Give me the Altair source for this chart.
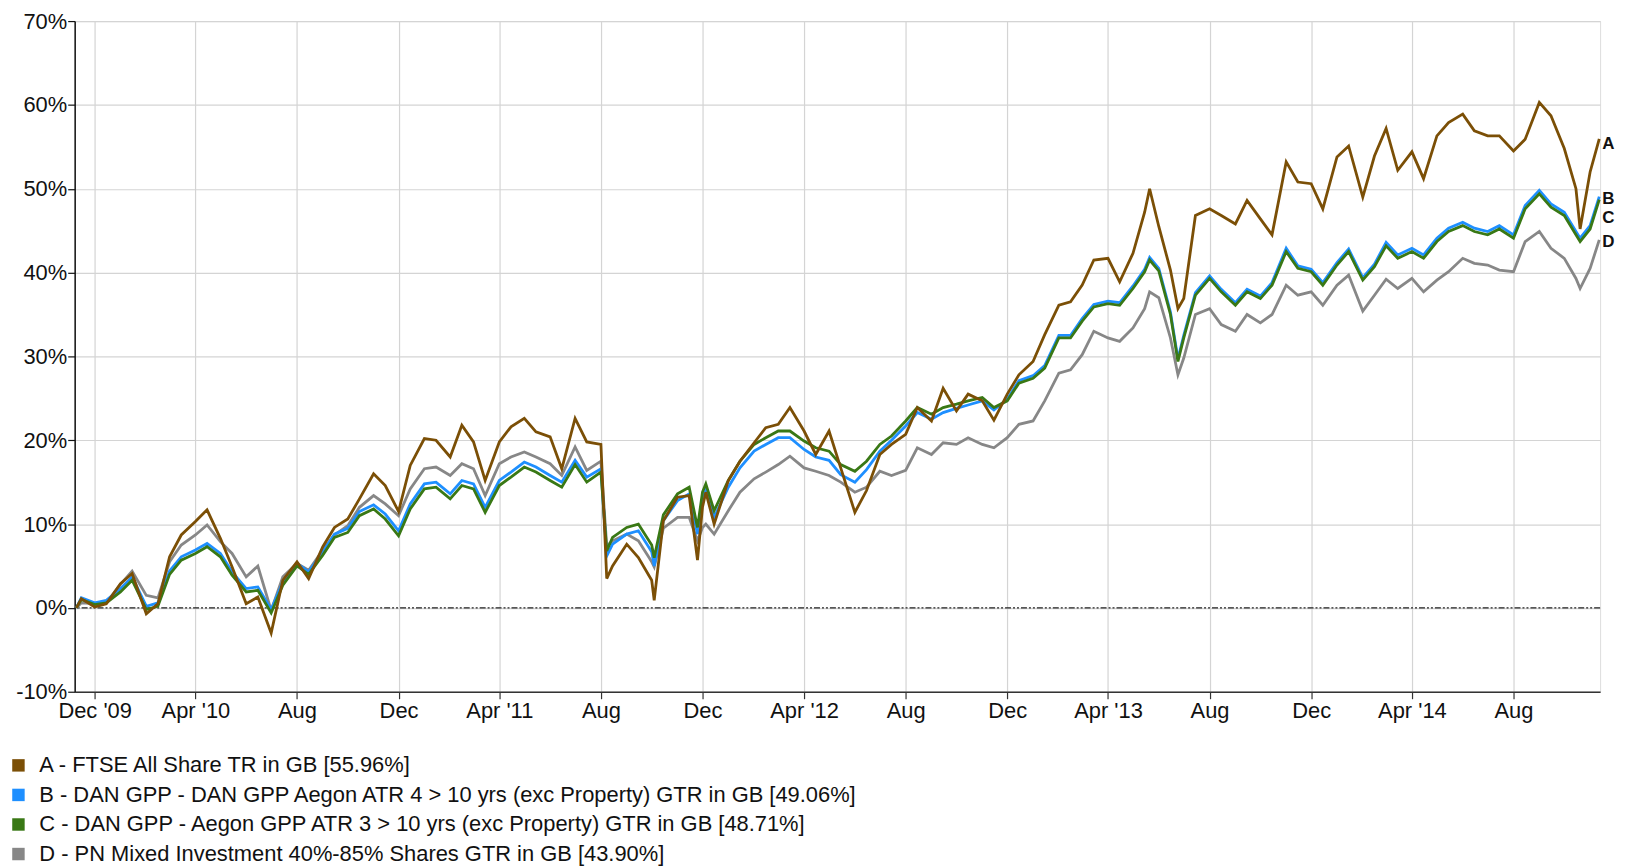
import altair as alt
import pandas as pd

dates = [
    "2009-11-09", "2009-11-15", "2009-12-01", "2009-12-15",
    "2010-01-01", "2010-01-15", "2010-02-01", "2010-02-15", "2010-03-01", "2010-03-15",
    "2010-04-01", "2010-04-15", "2010-05-01", "2010-05-15", "2010-06-01", "2010-06-15",
    "2010-07-01", "2010-07-15", "2010-08-01", "2010-08-15", "2010-09-01", "2010-09-15",
    "2010-10-01", "2010-10-15", "2010-11-01", "2010-11-15", "2010-12-01", "2010-12-15",
    "2011-01-01", "2011-01-15", "2011-02-01", "2011-02-15", "2011-03-01", "2011-03-15",
    "2011-04-01", "2011-04-15", "2011-05-01", "2011-05-15", "2011-06-01", "2011-06-15",
    "2011-07-01", "2011-07-15", "2011-08-01", "2011-08-08", "2011-08-15", "2011-09-01",
    "2011-09-15", "2011-10-01", "2011-10-04", "2011-10-15", "2011-11-01", "2011-11-15",
    "2011-11-25", "2011-12-01", "2011-12-05", "2011-12-15",
    "2012-01-01", "2012-01-15", "2012-02-01", "2012-02-15", "2012-03-01", "2012-03-15",
    "2012-04-01", "2012-04-15", "2012-05-01", "2012-05-15", "2012-06-01", "2012-06-15",
    "2012-07-01", "2012-07-15", "2012-08-01", "2012-08-15", "2012-09-01", "2012-09-15",
    "2012-10-01", "2012-10-15", "2012-11-01", "2012-11-15", "2012-12-01", "2012-12-15",
    "2013-01-01", "2013-01-15", "2013-02-01", "2013-02-15", "2013-03-01", "2013-03-15",
    "2013-04-01", "2013-04-15", "2013-05-01", "2013-05-15", "2013-05-21", "2013-06-01",
    "2013-06-15", "2013-06-24", "2013-07-01", "2013-07-15", "2013-08-01", "2013-08-15",
    "2013-09-01", "2013-09-15", "2013-10-01", "2013-10-15", "2013-11-01", "2013-11-15",
    "2013-12-01", "2013-12-15",
    "2014-01-01", "2014-01-15", "2014-02-01", "2014-02-15", "2014-03-01", "2014-03-15",
    "2014-04-01", "2014-04-15", "2014-05-01", "2014-05-15", "2014-06-01", "2014-06-15",
    "2014-07-01", "2014-07-15", "2014-08-01", "2014-08-15", "2014-09-01", "2014-09-15",
    "2014-10-01", "2014-10-15", "2014-10-20", "2014-11-01", "2014-11-12",
]

a_vals = [
    0.0, 1.1, 0.1, 0.5,
    2.9, 4.1, -0.7, 0.5, 6.1, 8.7, 10.3, 11.7, 8.3, 4.9, 0.5, 1.3, -3.0, 3.3, 5.5, 3.5, 7.3, 9.6, 10.6, 13.0, 16.0, 14.6, 11.5, 17.0,
    20.2, 20.0, 18.0, 21.8, 19.8, 15.2, 19.8, 21.6, 22.6, 21.0, 20.4, 16.6, 22.6, 19.8, 19.5, 3.5, 5.0, 7.6, 6.0, 3.3, 0.9, 10.4, 13.2, 13.4, 5.7, 12.0, 13.8, 10.0,
    15.2, 17.5, 19.7, 21.5, 21.9, 23.9, 21.1, 18.3, 21.1, 16.7, 11.4, 14.0, 18.3, 19.5, 20.7, 23.9, 22.3, 26.2, 23.5, 25.5, 24.7, 22.4, 25.5, 27.8,
    29.4, 32.6, 36.1, 36.5, 38.5, 41.5, 41.7, 38.9, 42.3, 47.2, 50.0, 45.5, 40.3, 35.7, 36.9, 46.8, 47.6, 46.8, 45.8, 48.6, 46.4, 44.5, 53.2, 50.8, 50.6, 47.6,
    53.8, 55.1, 49.0, 53.9, 57.2, 52.2, 54.4, 51.2, 56.3, 57.9, 58.9, 56.9, 56.3, 56.3, 54.5, 55.9, 60.3, 58.7, 54.8, 50.0, 45.2, 52.0, 55.96,
]

b_vals = [
    0.0, 1.2, 0.6, 0.9,
    2.3, 3.7, 0.2, 0.6, 4.4, 6.1, 6.9, 7.7, 6.5, 4.3, 2.3, 2.5, -0.2, 3.1, 5.3, 4.3, 6.7, 8.8, 9.5, 11.5, 12.3, 11.2, 9.2, 12.4,
    14.8, 15.0, 13.6, 15.2, 14.8, 12.0, 15.2, 16.2, 17.4, 16.8, 15.8, 15.0, 17.6, 15.6, 16.6, 6.2, 7.6, 8.8, 9.2, 6.7, 5.0, 10.4, 12.8, 13.6, 8.8, 13.0, 14.0, 10.8,
    14.4, 16.7, 18.7, 19.5, 20.3, 20.3, 18.9, 18.0, 17.6, 15.9, 15.0, 16.5, 18.7, 20.0, 21.7, 23.3, 22.5, 23.3, 23.8, 24.2, 24.7, 23.6, 24.9, 27.1,
    27.7, 28.9, 32.5, 32.5, 34.5, 36.2, 36.6, 36.4, 38.4, 40.4, 41.8, 40.5, 35.3, 29.7, 32.5, 37.6, 39.6, 38.0, 36.4, 38.0, 37.2, 38.8, 42.9, 40.8, 40.4, 38.8,
    41.2, 42.8, 39.4, 41.0, 43.6, 42.1, 42.9, 42.1, 44.1, 45.3, 46.0, 45.3, 44.9, 45.6, 44.5, 48.0, 49.8, 48.2, 47.2, 44.9, 44.1, 45.6, 49.06,
]

c_vals = [
    0.0, 1.0, 0.4, 0.6,
    1.9, 3.3, -0.2, 0.2, 4.0, 5.7, 6.5, 7.3, 6.1, 3.9, 1.9, 2.1, -0.6, 2.7, 5.0, 4.0, 6.3, 8.4, 9.0, 11.0, 11.8, 10.6, 8.6, 11.8,
    14.2, 14.4, 13.0, 14.6, 14.2, 11.4, 14.6, 15.6, 16.8, 16.2, 15.2, 14.4, 17.1, 15.0, 16.2, 6.8, 8.4, 9.6, 10.0, 7.5, 6.0, 11.1, 13.6, 14.4, 9.6, 13.8, 14.8, 11.6,
    15.2, 17.5, 19.5, 20.3, 21.1, 21.1, 19.9, 19.1, 18.7, 17.1, 16.3, 17.5, 19.5, 20.5, 22.3, 23.9, 23.1, 23.9, 24.3, 24.7, 25.1, 23.9, 24.7, 26.8,
    27.4, 28.6, 32.2, 32.2, 34.2, 35.9, 36.3, 36.1, 38.1, 40.1, 41.5, 40.2, 35.0, 29.4, 32.2, 37.3, 39.3, 37.7, 36.1, 37.7, 36.9, 38.5, 42.5, 40.5, 40.1, 38.5,
    40.9, 42.5, 39.1, 40.7, 43.2, 41.7, 42.5, 41.7, 43.7, 44.9, 45.6, 44.9, 44.5, 45.2, 44.1, 47.6, 49.4, 47.8, 46.8, 44.5, 43.7, 45.2, 48.71,
]

d_vals = [
    0.0, 0.6, 0.5, 0.6,
    2.8, 4.4, 1.5, 1.2, 5.5, 7.5, 8.7, 9.9, 7.9, 6.5, 3.7, 5.0, -0.3, 3.7, 5.3, 4.5, 6.9, 8.7, 9.8, 12.0, 13.4, 12.4, 11.0, 14.2,
    16.6, 16.8, 15.8, 17.2, 16.6, 13.4, 17.2, 18.0, 18.6, 18.0, 17.2, 15.8, 19.2, 16.4, 17.5, 7.4, 8.0, 8.8, 8.0, 5.5, 4.9, 9.5, 10.8, 10.8, 8.0, 9.6, 10.0, 8.8,
    11.6, 13.8, 15.4, 16.2, 17.1, 18.1, 16.7, 16.3, 15.8, 15.0, 13.8, 14.4, 16.3, 15.8, 16.4, 19.1, 18.3, 19.7, 19.5, 20.3, 19.5, 19.1, 20.3, 21.9,
    22.3, 24.7, 28.0, 28.4, 30.2, 33.0, 32.2, 31.8, 33.4, 35.7, 37.7, 37.0, 32.2, 27.8, 29.8, 35.0, 35.7, 33.8, 33.0, 35.0, 34.0, 35.0, 38.5, 37.3, 37.7, 36.1,
    38.5, 39.7, 35.4, 37.3, 39.2, 38.1, 39.3, 37.7, 39.1, 40.1, 41.7, 41.1, 40.9, 40.3, 40.1, 43.7, 44.9, 42.9, 41.7, 39.3, 38.1, 40.5, 43.90,
]

letters = ["A", "B", "C", "D"]
names = [
    "A - FTSE All Share TR in GB [55.96%]",
    "B - DAN GPP - DAN GPP Aegon ATR 4 > 10 yrs (exc Property) GTR in GB [49.06%]",
    "C - DAN GPP -  Aegon GPP ATR 3 > 10 yrs (exc Property) GTR in GB [48.71%]",
    "D - PN Mixed Investment 40%-85% Shares GTR in GB [43.90%]",
]
colors = ["#7b4f06", "#1e8fff", "#397815", "#878787"]
y_ticks = [-10, 0, 10, 20, 30, 40, 50, 60, 70]
x_tick_months = [(2009, 12)] + [(y, m) for y in range(2010, 2015) for m in (4, 8, 12)][:-1]

series_vals = [a_vals, b_vals, c_vals, d_vals]
rows = []
for letter, name, vals in zip(letters, names, series_vals):
    for d, v in zip(dates, vals):
        rows.append({"date": d, "series": name, "letter": letter, "value": v})
df = pd.DataFrame(rows)
last_df = df[df["date"] == dates[-1]].reset_index(drop=True)

FONT = "Liberation Sans"
FS = 22

x_scale = alt.Scale(
    type="utc",
    domain=[alt.DateTime(year=2009, month=11, date=7, utc=True),
            alt.DateTime(year=2014, month=11, date=13, utc=True)],
)
y_scale = alt.Scale(domain=[-10, 70], nice=False, zero=False)

x_axis = alt.Axis(
    values=[alt.DateTime(year=y, month=m, date=1, utc=True) for y, m in x_tick_months],
    labelExpr="(utcmonth(datum.value) == 3 || utcyear(datum.value) == 2009) ? utcFormat(datum.value, \"%b '%y\") : utcFormat(datum.value, '%b')",
    title=None, grid=True, gridColor="#d4d4d4", gridWidth=1.2,
    domainColor="#333333", domainWidth=1.5, tickColor="#333333", tickSize=7, tickWidth=1.2,
    labelFont=FONT, labelFontSize=FS, labelColor="#111111", labelPadding=2,
    labelFlush=False, labelOverlap=False,
)
y_axis = alt.Axis(
    values=y_ticks, labelExpr="datum.value + '%'", title=None,
    grid=True, gridColor="#d4d4d4", gridWidth=1.2,
    domainColor="#111111", domainWidth=1.5, tickColor="#111111", tickSize=7, tickWidth=1.2,
    labelFont=FONT, labelFontSize=FS, labelColor="#111111", labelPadding=1,
    labelFlush=False, labelOverlap=False,
)

color = alt.Color(
    "series:N",
    scale=alt.Scale(domain=names, range=colors),
    legend=alt.Legend(
        orient="none", legendX=-67.5, legendY=737, direction="vertical", title=None,
        symbolType="square", symbolSize=36, symbolStrokeWidth=6.5,
        labelFont=FONT, labelFontSize=FS, labelColor="#111111", labelLimit=1500,
        labelOffset=10, rowPadding=-2.3, padding=0,
    ),
)

zero = alt.Chart(pd.DataFrame({"v": [0]})).mark_rule(
    color="#222222", strokeWidth=1.2, strokeDash=[6, 2, 2, 2, 2, 2]
).encode(y=alt.Y("v:Q", scale=y_scale, axis=y_axis))

layers = [zero]
for idx in [3, 1, 2, 0]:
    layers.append(
        alt.Chart(df).transform_filter(alt.datum.letter == letters[idx]).mark_line(
            strokeWidth=2.8, interpolate="linear"
        ).encode(
            x=alt.X("date:T", scale=x_scale, axis=x_axis),
            y=alt.Y("value:Q", scale=y_scale, axis=y_axis),
            color=color,
        )
    )

label_dy = {"A": 5, "B": 2, "C": 19, "D": 2}
for letter in letters:
    layers.append(
        alt.Chart(last_df).transform_filter(alt.datum.letter == letter).mark_text(
            align="left", baseline="middle", dx=3, dy=label_dy[letter],
            font=FONT, fontSize=17, fontWeight="bold", color="#111111"
        ).encode(
            x=alt.X("date:T", scale=x_scale, axis=x_axis),
            y=alt.Y("value:Q", scale=y_scale, axis=y_axis),
            text="letter:N",
        )
    )

chart = alt.layer(*layers).properties(
    width=1533, height=674,
    padding={"left": 67, "top": 11, "right": 20, "bottom": 174},
    autosize=alt.AutoSizeParams(type="none"),
).configure_view(stroke="#d4d4d4", strokeWidth=1.2).configure(background="white")

chart.save("out.html", embed_options={"renderer": "svg", "actions": False})
